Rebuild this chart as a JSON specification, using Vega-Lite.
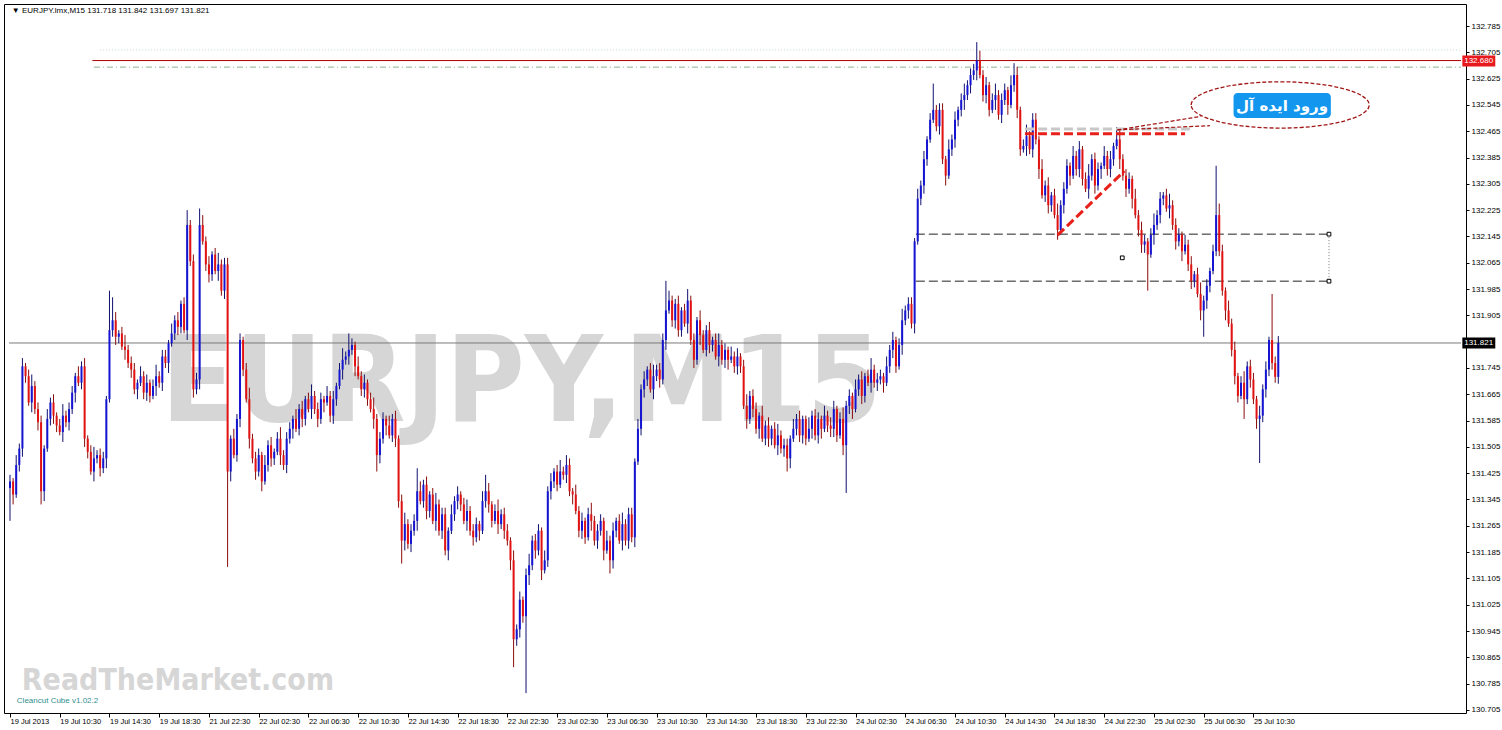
{
"$schema": "https://vega.github.io/schema/vega-lite/v6.json",
"width": 1462, "height": 709,
"autosize": {"type": "none"},
"padding": {"left": 4, "top": 4, "right": 36, "bottom": 17},
"background": "#ffffff",
"config": {"view": {"stroke": "#000000", "strokeWidth": 1}, "axis": {"labelFont": "Liberation Sans", "labelColor": "#000000", "tickColor": "#000000", "domain": false, "grid": false, "labelOverlap": false}},
"datasets": {"bars": [
{"i":0,"o":131.38,"h":131.42,"l":131.28,"c":131.40},{"i":1,"o":131.40,"h":131.41,"l":131.33,"c":131.36},{"i":2,"o":131.36,"h":131.48,"l":131.35,"c":131.45},{"i":3,"o":131.45,"h":131.515,"l":131.43,"c":131.50},{"i":4,"o":131.50,"h":131.775,"l":131.475,"c":131.75},{"i":5,"o":131.75,"h":131.76,"l":131.70,"c":131.72},{"i":6,"o":131.72,"h":131.74,"l":131.63,"c":131.64},{"i":7,"o":131.64,"h":131.725,"l":131.61,"c":131.69},{"i":8,"o":131.69,"h":131.705,"l":131.605,"c":131.62},{"i":9,"o":131.62,"h":131.64,"l":131.555,"c":131.58},
{"i":10,"o":131.58,"h":131.60,"l":131.33,"c":131.37},{"i":11,"o":131.37,"h":131.51,"l":131.34,"c":131.50},{"i":12,"o":131.50,"h":131.62,"l":131.49,"c":131.59},{"i":13,"o":131.59,"h":131.655,"l":131.57,"c":131.64},{"i":14,"o":131.64,"h":131.665,"l":131.575,"c":131.60},{"i":15,"o":131.60,"h":131.61,"l":131.55,"c":131.57},{"i":16,"o":131.57,"h":131.59,"l":131.54,"c":131.55},{"i":17,"o":131.55,"h":131.635,"l":131.52,"c":131.60},{"i":18,"o":131.60,"h":131.615,"l":131.565,"c":131.58},{"i":19,"o":131.58,"h":131.64,"l":131.555,"c":131.62},
{"i":20,"o":131.62,"h":131.69,"l":131.605,"c":131.67},{"i":21,"o":131.67,"h":131.73,"l":131.64,"c":131.72},{"i":22,"o":131.72,"h":131.75,"l":131.69,"c":131.70},{"i":23,"o":131.70,"h":131.765,"l":131.68,"c":131.75},{"i":24,"o":131.75,"h":131.775,"l":131.505,"c":131.53},{"i":25,"o":131.53,"h":131.54,"l":131.47,"c":131.49},{"i":26,"o":131.49,"h":131.51,"l":131.42,"c":131.43},{"i":27,"o":131.43,"h":131.505,"l":131.40,"c":131.47},{"i":28,"o":131.47,"h":131.495,"l":131.455,"c":131.48},{"i":29,"o":131.48,"h":131.50,"l":131.415,"c":131.44},
{"i":30,"o":131.44,"h":131.49,"l":131.425,"c":131.47},{"i":31,"o":131.47,"h":131.66,"l":131.44,"c":131.65},{"i":32,"o":131.65,"h":131.98,"l":131.64,"c":131.86},{"i":33,"o":131.86,"h":131.96,"l":131.84,"c":131.89},{"i":34,"o":131.89,"h":131.915,"l":131.815,"c":131.84},{"i":35,"o":131.84,"h":131.86,"l":131.82,"c":131.85},{"i":36,"o":131.85,"h":131.87,"l":131.80,"c":131.81},{"i":37,"o":131.81,"h":131.845,"l":131.77,"c":131.80},{"i":38,"o":131.80,"h":131.815,"l":131.745,"c":131.76},{"i":39,"o":131.76,"h":131.78,"l":131.715,"c":131.74},
{"i":40,"o":131.74,"h":131.76,"l":131.665,"c":131.68},{"i":41,"o":131.68,"h":131.71,"l":131.65,"c":131.70},{"i":42,"o":131.70,"h":131.75,"l":131.69,"c":131.72},{"i":43,"o":131.72,"h":131.735,"l":131.65,"c":131.67},{"i":44,"o":131.67,"h":131.725,"l":131.645,"c":131.70},{"i":45,"o":131.70,"h":131.71,"l":131.64,"c":131.66},{"i":46,"o":131.66,"h":131.71,"l":131.65,"c":131.69},{"i":47,"o":131.69,"h":131.755,"l":131.66,"c":131.72},{"i":48,"o":131.72,"h":131.735,"l":131.685,"c":131.70},{"i":49,"o":131.70,"h":131.80,"l":131.675,"c":131.78},
{"i":50,"o":131.78,"h":131.80,"l":131.745,"c":131.76},{"i":51,"o":131.76,"h":131.83,"l":131.73,"c":131.82},{"i":52,"o":131.82,"h":131.88,"l":131.81,"c":131.85},{"i":53,"o":131.85,"h":131.905,"l":131.83,"c":131.89},{"i":54,"o":131.89,"h":131.915,"l":131.845,"c":131.87},{"i":55,"o":131.87,"h":131.95,"l":131.85,"c":131.94},{"i":56,"o":131.94,"h":131.96,"l":131.85,"c":131.86},{"i":57,"o":131.86,"h":132.225,"l":131.83,"c":132.18},{"i":58,"o":132.18,"h":132.195,"l":132.055,"c":132.07},{"i":59,"o":132.07,"h":132.09,"l":131.655,"c":131.68},
{"i":60,"o":131.68,"h":131.73,"l":131.665,"c":131.71},{"i":61,"o":131.71,"h":132.23,"l":131.68,"c":132.18},{"i":62,"o":132.18,"h":132.21,"l":132.12,"c":132.13},{"i":63,"o":132.13,"h":132.145,"l":132.04,"c":132.06},{"i":64,"o":132.06,"h":132.085,"l":132.005,"c":132.03},{"i":65,"o":132.03,"h":132.10,"l":132.01,"c":132.09},{"i":66,"o":132.09,"h":132.11,"l":132.03,"c":132.04},{"i":67,"o":132.04,"h":132.095,"l":132.01,"c":132.06},{"i":68,"o":132.06,"h":132.075,"l":131.965,"c":131.98},{"i":69,"o":131.98,"h":132.08,"l":131.955,"c":132.06},
{"i":70,"o":132.06,"h":132.08,"l":131.14,"c":131.43},{"i":71,"o":131.43,"h":131.54,"l":131.40,"c":131.53},{"i":72,"o":131.53,"h":131.56,"l":131.47,"c":131.48},{"i":73,"o":131.48,"h":131.605,"l":131.46,"c":131.59},{"i":74,"o":131.59,"h":131.85,"l":131.565,"c":131.83},{"i":75,"o":131.83,"h":131.84,"l":131.72,"c":131.74},{"i":76,"o":131.74,"h":131.76,"l":131.64,"c":131.65},{"i":77,"o":131.65,"h":131.685,"l":131.50,"c":131.53},{"i":78,"o":131.53,"h":131.545,"l":131.455,"c":131.47},{"i":79,"o":131.47,"h":131.49,"l":131.405,"c":131.43},
{"i":80,"o":131.43,"h":131.50,"l":131.415,"c":131.48},{"i":81,"o":131.48,"h":131.49,"l":131.37,"c":131.40},{"i":82,"o":131.40,"h":131.48,"l":131.39,"c":131.45},{"i":83,"o":131.45,"h":131.525,"l":131.43,"c":131.51},{"i":84,"o":131.51,"h":131.535,"l":131.445,"c":131.47},{"i":85,"o":131.47,"h":131.50,"l":131.45,"c":131.49},{"i":86,"o":131.49,"h":131.55,"l":131.48,"c":131.53},{"i":87,"o":131.53,"h":131.565,"l":131.45,"c":131.48},{"i":88,"o":131.48,"h":131.495,"l":131.435,"c":131.45},{"i":89,"o":131.45,"h":131.55,"l":131.425,"c":131.53},
{"i":90,"o":131.53,"h":131.58,"l":131.515,"c":131.56},{"i":91,"o":131.56,"h":131.60,"l":131.53,"c":131.59},{"i":92,"o":131.59,"h":131.62,"l":131.55,"c":131.56},{"i":93,"o":131.56,"h":131.635,"l":131.54,"c":131.62},{"i":94,"o":131.62,"h":131.645,"l":131.565,"c":131.59},{"i":95,"o":131.59,"h":131.66,"l":131.57,"c":131.65},{"i":96,"o":131.65,"h":131.67,"l":131.61,"c":131.62},{"i":97,"o":131.62,"h":131.695,"l":131.59,"c":131.66},{"i":98,"o":131.66,"h":131.675,"l":131.605,"c":131.62},{"i":99,"o":131.62,"h":131.64,"l":131.565,"c":131.59},
{"i":100,"o":131.59,"h":131.67,"l":131.575,"c":131.65},{"i":101,"o":131.65,"h":131.66,"l":131.61,"c":131.64},{"i":102,"o":131.64,"h":131.69,"l":131.63,"c":131.66},{"i":103,"o":131.66,"h":131.675,"l":131.58,"c":131.60},{"i":104,"o":131.60,"h":131.675,"l":131.575,"c":131.65},{"i":105,"o":131.65,"h":131.70,"l":131.63,"c":131.69},{"i":106,"o":131.69,"h":131.76,"l":131.68,"c":131.74},{"i":107,"o":131.74,"h":131.805,"l":131.71,"c":131.77},{"i":108,"o":131.77,"h":131.795,"l":131.755,"c":131.78},{"i":109,"o":131.78,"h":131.85,"l":131.755,"c":131.80},
{"i":110,"o":131.80,"h":131.835,"l":131.785,"c":131.815},{"i":111,"o":131.815,"h":131.825,"l":131.72,"c":131.75},{"i":112,"o":131.75,"h":131.78,"l":131.71,"c":131.72},{"i":113,"o":131.72,"h":131.735,"l":131.66,"c":131.68},{"i":114,"o":131.68,"h":131.725,"l":131.655,"c":131.70},{"i":115,"o":131.70,"h":131.71,"l":131.63,"c":131.65},{"i":116,"o":131.65,"h":131.67,"l":131.61,"c":131.62},{"i":117,"o":131.62,"h":131.655,"l":131.56,"c":131.59},{"i":118,"o":131.59,"h":131.605,"l":131.43,"c":131.48},{"i":119,"o":131.48,"h":131.55,"l":131.455,"c":131.53},
{"i":120,"o":131.53,"h":131.61,"l":131.515,"c":131.59},{"i":121,"o":131.59,"h":131.60,"l":131.54,"c":131.57},{"i":122,"o":131.57,"h":131.60,"l":131.53,"c":131.54},{"i":123,"o":131.54,"h":131.605,"l":131.52,"c":131.59},{"i":124,"o":131.59,"h":131.615,"l":131.505,"c":131.53},{"i":125,"o":131.53,"h":131.54,"l":131.32,"c":131.34},{"i":126,"o":131.34,"h":131.36,"l":131.15,"c":131.22},{"i":127,"o":131.22,"h":131.305,"l":131.19,"c":131.27},{"i":128,"o":131.27,"h":131.285,"l":131.195,"c":131.21},{"i":129,"o":131.21,"h":131.27,"l":131.185,"c":131.25},
{"i":130,"o":131.25,"h":131.30,"l":131.235,"c":131.28},{"i":131,"o":131.28,"h":131.44,"l":131.25,"c":131.37},{"i":132,"o":131.37,"h":131.40,"l":131.33,"c":131.34},{"i":133,"o":131.34,"h":131.405,"l":131.32,"c":131.39},{"i":134,"o":131.39,"h":131.415,"l":131.285,"c":131.31},{"i":135,"o":131.31,"h":131.37,"l":131.29,"c":131.36},{"i":136,"o":131.36,"h":131.38,"l":131.27,"c":131.28},{"i":137,"o":131.28,"h":131.365,"l":131.25,"c":131.33},{"i":138,"o":131.33,"h":131.345,"l":131.235,"c":131.25},{"i":139,"o":131.25,"h":131.32,"l":131.225,"c":131.30},
{"i":140,"o":131.30,"h":131.32,"l":131.175,"c":131.19},{"i":141,"o":131.19,"h":131.26,"l":131.16,"c":131.25},{"i":142,"o":131.25,"h":131.33,"l":131.24,"c":131.30},{"i":143,"o":131.30,"h":131.355,"l":131.28,"c":131.34},{"i":144,"o":131.34,"h":131.385,"l":131.315,"c":131.36},{"i":145,"o":131.36,"h":131.37,"l":131.31,"c":131.33},{"i":146,"o":131.33,"h":131.35,"l":131.27,"c":131.28},{"i":147,"o":131.28,"h":131.345,"l":131.25,"c":131.31},{"i":148,"o":131.31,"h":131.325,"l":131.235,"c":131.25},{"i":149,"o":131.25,"h":131.27,"l":131.205,"c":131.23},
{"i":150,"o":131.23,"h":131.29,"l":131.215,"c":131.27},{"i":151,"o":131.27,"h":131.28,"l":131.22,"c":131.25},{"i":152,"o":131.25,"h":131.37,"l":131.24,"c":131.34},{"i":153,"o":131.34,"h":131.42,"l":131.32,"c":131.37},{"i":154,"o":131.37,"h":131.395,"l":131.305,"c":131.33},{"i":155,"o":131.33,"h":131.34,"l":131.26,"c":131.28},{"i":156,"o":131.28,"h":131.33,"l":131.27,"c":131.31},{"i":157,"o":131.31,"h":131.345,"l":131.24,"c":131.27},{"i":158,"o":131.27,"h":131.315,"l":131.255,"c":131.30},{"i":159,"o":131.30,"h":131.32,"l":131.225,"c":131.25},
{"i":160,"o":131.25,"h":131.27,"l":131.205,"c":131.22},{"i":161,"o":131.22,"h":131.23,"l":131.13,"c":131.16},{"i":162,"o":131.16,"h":131.19,"l":130.835,"c":130.92},{"i":163,"o":130.92,"h":130.965,"l":130.90,"c":130.95},{"i":164,"o":130.95,"h":131.065,"l":130.925,"c":131.04},{"i":165,"o":131.04,"h":131.05,"l":130.97,"c":130.99},{"i":166,"o":130.99,"h":131.135,"l":130.756,"c":131.115},{"i":167,"o":131.115,"h":131.18,"l":131.085,"c":131.145},{"i":168,"o":131.145,"h":131.235,"l":131.13,"c":131.22},{"i":169,"o":131.22,"h":131.24,"l":131.165,"c":131.19},
{"i":170,"o":131.19,"h":131.27,"l":131.175,"c":131.25},{"i":171,"o":131.25,"h":131.26,"l":131.10,"c":131.13},{"i":172,"o":131.13,"h":131.19,"l":131.12,"c":131.16},{"i":173,"o":131.16,"h":131.385,"l":131.14,"c":131.37},{"i":174,"o":131.37,"h":131.425,"l":131.345,"c":131.40},{"i":175,"o":131.40,"h":131.44,"l":131.38,"c":131.43},{"i":176,"o":131.43,"h":131.45,"l":131.37,"c":131.39},{"i":177,"o":131.39,"h":131.465,"l":131.38,"c":131.43},{"i":178,"o":131.43,"h":131.445,"l":131.405,"c":131.42},{"i":179,"o":131.42,"h":131.48,"l":131.395,"c":131.45},
{"i":180,"o":131.45,"h":131.47,"l":131.355,"c":131.37},{"i":181,"o":131.37,"h":131.38,"l":131.33,"c":131.36},{"i":182,"o":131.36,"h":131.39,"l":131.30,"c":131.31},{"i":183,"o":131.31,"h":131.325,"l":131.23,"c":131.25},{"i":184,"o":131.25,"h":131.305,"l":131.225,"c":131.28},{"i":185,"o":131.28,"h":131.29,"l":131.21,"c":131.23},{"i":186,"o":131.23,"h":131.32,"l":131.22,"c":131.30},{"i":187,"o":131.30,"h":131.335,"l":131.25,"c":131.28},{"i":188,"o":131.28,"h":131.295,"l":131.205,"c":131.22},{"i":189,"o":131.22,"h":131.27,"l":131.195,"c":131.25},
{"i":190,"o":131.25,"h":131.30,"l":131.235,"c":131.28},{"i":191,"o":131.28,"h":131.29,"l":131.16,"c":131.19},{"i":192,"o":131.19,"h":131.25,"l":131.18,"c":131.22},{"i":193,"o":131.22,"h":131.235,"l":131.12,"c":131.16},{"i":194,"o":131.16,"h":131.275,"l":131.135,"c":131.25},{"i":195,"o":131.25,"h":131.29,"l":131.23,"c":131.28},{"i":196,"o":131.28,"h":131.30,"l":131.21,"c":131.22},{"i":197,"o":131.22,"h":131.305,"l":131.19,"c":131.27},{"i":198,"o":131.27,"h":131.285,"l":131.205,"c":131.22},{"i":199,"o":131.22,"h":131.32,"l":131.195,"c":131.30},
{"i":200,"o":131.30,"h":131.32,"l":131.215,"c":131.23},{"i":201,"o":131.23,"h":131.47,"l":131.20,"c":131.46},{"i":202,"o":131.46,"h":131.59,"l":131.45,"c":131.56},{"i":203,"o":131.56,"h":131.695,"l":131.54,"c":131.68},{"i":204,"o":131.68,"h":131.735,"l":131.655,"c":131.71},{"i":205,"o":131.71,"h":131.75,"l":131.69,"c":131.74},{"i":206,"o":131.74,"h":131.76,"l":131.67,"c":131.68},{"i":207,"o":131.68,"h":131.755,"l":131.65,"c":131.72},{"i":208,"o":131.72,"h":131.755,"l":131.705,"c":131.74},{"i":209,"o":131.74,"h":131.76,"l":131.685,"c":131.71},
{"i":210,"o":131.71,"h":131.85,"l":131.695,"c":131.83},{"i":211,"o":131.83,"h":132.01,"l":131.80,"c":131.92},{"i":212,"o":131.92,"h":131.98,"l":131.91,"c":131.95},{"i":213,"o":131.95,"h":131.965,"l":131.87,"c":131.89},{"i":214,"o":131.89,"h":131.955,"l":131.865,"c":131.94},{"i":215,"o":131.94,"h":131.965,"l":131.84,"c":131.86},{"i":216,"o":131.86,"h":131.93,"l":131.84,"c":131.92},{"i":217,"o":131.92,"h":131.94,"l":131.87,"c":131.88},{"i":218,"o":131.88,"h":131.985,"l":131.85,"c":131.95},{"i":219,"o":131.95,"h":131.965,"l":131.815,"c":131.83},
{"i":220,"o":131.83,"h":131.85,"l":131.745,"c":131.77},{"i":221,"o":131.77,"h":131.90,"l":131.755,"c":131.89},{"i":222,"o":131.89,"h":131.92,"l":131.815,"c":131.845},{"i":223,"o":131.845,"h":131.86,"l":131.79,"c":131.80},{"i":224,"o":131.80,"h":131.875,"l":131.78,"c":131.86},{"i":225,"o":131.86,"h":131.885,"l":131.79,"c":131.815},{"i":226,"o":131.815,"h":131.84,"l":131.795,"c":131.83},{"i":227,"o":131.83,"h":131.85,"l":131.77,"c":131.78},{"i":228,"o":131.78,"h":131.85,"l":131.75,"c":131.815},{"i":229,"o":131.815,"h":131.83,"l":131.755,"c":131.77},
{"i":230,"o":131.77,"h":131.82,"l":131.745,"c":131.80},{"i":231,"o":131.80,"h":131.81,"l":131.74,"c":131.77},{"i":232,"o":131.77,"h":131.81,"l":131.76,"c":131.78},{"i":233,"o":131.78,"h":131.795,"l":131.73,"c":131.75},{"i":234,"o":131.75,"h":131.805,"l":131.725,"c":131.78},{"i":235,"o":131.78,"h":131.79,"l":131.73,"c":131.75},{"i":236,"o":131.75,"h":131.77,"l":131.62,"c":131.63},{"i":237,"o":131.63,"h":131.665,"l":131.56,"c":131.59},{"i":238,"o":131.59,"h":131.675,"l":131.575,"c":131.66},{"i":239,"o":131.66,"h":131.68,"l":131.595,"c":131.62},
{"i":240,"o":131.62,"h":131.64,"l":131.545,"c":131.56},{"i":241,"o":131.56,"h":131.61,"l":131.53,"c":131.60},{"i":242,"o":131.60,"h":131.63,"l":131.52,"c":131.53},{"i":243,"o":131.53,"h":131.585,"l":131.51,"c":131.57},{"i":244,"o":131.57,"h":131.595,"l":131.505,"c":131.53},{"i":245,"o":131.53,"h":131.57,"l":131.51,"c":131.56},{"i":246,"o":131.56,"h":131.58,"l":131.50,"c":131.51},{"i":247,"o":131.51,"h":131.575,"l":131.48,"c":131.54},{"i":248,"o":131.54,"h":131.555,"l":131.485,"c":131.50},{"i":249,"o":131.50,"h":131.53,"l":131.475,"c":131.51},
{"i":250,"o":131.51,"h":131.53,"l":131.43,"c":131.47},{"i":251,"o":131.47,"h":131.54,"l":131.44,"c":131.53},{"i":252,"o":131.53,"h":131.59,"l":131.52,"c":131.56},{"i":253,"o":131.56,"h":131.605,"l":131.54,"c":131.59},{"i":254,"o":131.59,"h":131.615,"l":131.52,"c":131.54},{"i":255,"o":131.54,"h":131.60,"l":131.515,"c":131.59},{"i":256,"o":131.59,"h":131.60,"l":131.51,"c":131.53},{"i":257,"o":131.53,"h":131.595,"l":131.52,"c":131.56},{"i":258,"o":131.56,"h":131.615,"l":131.53,"c":131.60},{"i":259,"o":131.60,"h":131.62,"l":131.525,"c":131.54},
{"i":260,"o":131.54,"h":131.61,"l":131.515,"c":131.59},{"i":261,"o":131.59,"h":131.60,"l":131.53,"c":131.56},{"i":262,"o":131.56,"h":131.63,"l":131.55,"c":131.60},{"i":263,"o":131.60,"h":131.615,"l":131.55,"c":131.57},{"i":264,"o":131.57,"h":131.595,"l":131.535,"c":131.56},{"i":265,"o":131.56,"h":131.645,"l":131.535,"c":131.62},{"i":266,"o":131.62,"h":131.63,"l":131.52,"c":131.54},{"i":267,"o":131.54,"h":131.61,"l":131.53,"c":131.59},{"i":268,"o":131.59,"h":131.625,"l":131.48,"c":131.51},{"i":269,"o":131.51,"h":131.645,"l":131.365,"c":131.63},
{"i":270,"o":131.63,"h":131.68,"l":131.605,"c":131.66},{"i":271,"o":131.66,"h":131.67,"l":131.59,"c":131.62},{"i":272,"o":131.62,"h":131.71,"l":131.61,"c":131.68},{"i":273,"o":131.68,"h":131.725,"l":131.66,"c":131.71},{"i":274,"o":131.71,"h":131.735,"l":131.635,"c":131.66},{"i":275,"o":131.66,"h":131.73,"l":131.64,"c":131.72},{"i":276,"o":131.72,"h":131.74,"l":131.69,"c":131.70},{"i":277,"o":131.70,"h":131.775,"l":131.67,"c":131.74},{"i":278,"o":131.74,"h":131.755,"l":131.685,"c":131.70},{"i":279,"o":131.70,"h":131.73,"l":131.675,"c":131.71},
{"i":280,"o":131.71,"h":131.74,"l":131.695,"c":131.72},{"i":281,"o":131.72,"h":131.73,"l":131.67,"c":131.70},{"i":282,"o":131.70,"h":131.78,"l":131.69,"c":131.75},{"i":283,"o":131.75,"h":131.815,"l":131.73,"c":131.80},{"i":284,"o":131.80,"h":131.855,"l":131.775,"c":131.83},{"i":285,"o":131.83,"h":131.84,"l":131.73,"c":131.75},{"i":286,"o":131.75,"h":131.835,"l":131.74,"c":131.815},{"i":287,"o":131.815,"h":131.925,"l":131.785,"c":131.89},{"i":288,"o":131.89,"h":131.935,"l":131.875,"c":131.92},{"i":289,"o":131.92,"h":131.96,"l":131.895,"c":131.94},
{"i":290,"o":131.94,"h":131.96,"l":131.865,"c":131.88},{"i":291,"o":131.88,"h":132.14,"l":131.85,"c":132.13},{"i":292,"o":132.13,"h":132.29,"l":132.12,"c":132.26},{"i":293,"o":132.26,"h":132.315,"l":132.24,"c":132.30},{"i":294,"o":132.30,"h":132.405,"l":132.275,"c":132.38},{"i":295,"o":132.38,"h":132.45,"l":132.36,"c":132.44},{"i":296,"o":132.44,"h":132.52,"l":132.43,"c":132.50},{"i":297,"o":132.50,"h":132.61,"l":132.49,"c":132.53},{"i":298,"o":132.53,"h":132.545,"l":132.465,"c":132.48},{"i":299,"o":132.48,"h":132.55,"l":132.455,"c":132.53},
{"i":300,"o":132.53,"h":132.55,"l":132.365,"c":132.38},{"i":301,"o":132.38,"h":132.39,"l":132.30,"c":132.33},{"i":302,"o":132.33,"h":132.44,"l":132.32,"c":132.41},{"i":303,"o":132.41,"h":132.455,"l":132.39,"c":132.44},{"i":304,"o":132.44,"h":132.525,"l":132.415,"c":132.50},{"i":305,"o":132.50,"h":132.54,"l":132.48,"c":132.53},{"i":306,"o":132.53,"h":132.58,"l":132.51,"c":132.56},{"i":307,"o":132.56,"h":132.61,"l":132.53,"c":132.575},{"i":308,"o":132.575,"h":132.62,"l":132.56,"c":132.605},{"i":309,"o":132.605,"h":132.656,"l":132.58,"c":132.636},
{"i":310,"o":132.636,"h":132.67,"l":132.621,"c":132.65},{"i":311,"o":132.65,"h":132.736,"l":132.62,"c":132.68},{"i":312,"o":132.68,"h":132.71,"l":132.626,"c":132.636},{"i":313,"o":132.636,"h":132.651,"l":132.555,"c":132.575},{"i":314,"o":132.575,"h":132.63,"l":132.55,"c":132.605},{"i":315,"o":132.605,"h":132.615,"l":132.51,"c":132.53},{"i":316,"o":132.53,"h":132.58,"l":132.52,"c":132.56},{"i":317,"o":132.56,"h":132.61,"l":132.53,"c":132.575},{"i":318,"o":132.575,"h":132.59,"l":132.50,"c":132.515},{"i":319,"o":132.515,"h":132.58,"l":132.49,"c":132.56},
{"i":320,"o":132.56,"h":132.61,"l":132.545,"c":132.59},{"i":321,"o":132.59,"h":132.60,"l":132.515,"c":132.545},{"i":322,"o":132.545,"h":132.635,"l":132.535,"c":132.605},{"i":323,"o":132.605,"h":132.672,"l":132.585,"c":132.636},{"i":324,"o":132.636,"h":132.661,"l":132.505,"c":132.53},{"i":325,"o":132.53,"h":132.54,"l":132.39,"c":132.41},{"i":326,"o":132.41,"h":132.44,"l":132.40,"c":132.42},{"i":327,"o":132.42,"h":132.485,"l":132.39,"c":132.45},{"i":328,"o":132.45,"h":132.465,"l":132.395,"c":132.41},{"i":329,"o":132.41,"h":132.52,"l":132.385,"c":132.50},
{"i":330,"o":132.50,"h":132.52,"l":132.425,"c":132.44},{"i":331,"o":132.44,"h":132.45,"l":132.32,"c":132.35},{"i":332,"o":132.35,"h":132.38,"l":132.26,"c":132.27},{"i":333,"o":132.27,"h":132.315,"l":132.25,"c":132.30},{"i":334,"o":132.30,"h":132.325,"l":132.215,"c":132.24},{"i":335,"o":132.24,"h":132.28,"l":132.22,"c":132.27},{"i":336,"o":132.27,"h":132.29,"l":132.20,"c":132.21},{"i":337,"o":132.21,"h":132.245,"l":132.135,"c":132.165},{"i":338,"o":132.165,"h":132.255,"l":132.15,"c":132.24},{"i":339,"o":132.24,"h":132.31,"l":132.215,"c":132.29},
{"i":340,"o":132.29,"h":132.38,"l":132.275,"c":132.36},{"i":341,"o":132.36,"h":132.37,"l":132.30,"c":132.33},{"i":342,"o":132.33,"h":132.42,"l":132.32,"c":132.39},{"i":343,"o":132.39,"h":132.405,"l":132.33,"c":132.35},{"i":344,"o":132.35,"h":132.435,"l":132.325,"c":132.41},{"i":345,"o":132.41,"h":132.42,"l":132.30,"c":132.32},{"i":346,"o":132.32,"h":132.34,"l":132.28,"c":132.29},{"i":347,"o":132.29,"h":132.365,"l":132.26,"c":132.33},{"i":348,"o":132.33,"h":132.395,"l":132.315,"c":132.38},{"i":349,"o":132.38,"h":132.40,"l":132.275,"c":132.30},
{"i":350,"o":132.30,"h":132.37,"l":132.285,"c":132.35},{"i":351,"o":132.35,"h":132.37,"l":132.32,"c":132.36},{"i":352,"o":132.36,"h":132.42,"l":132.35,"c":132.39},{"i":353,"o":132.39,"h":132.405,"l":132.33,"c":132.35},{"i":354,"o":132.35,"h":132.405,"l":132.325,"c":132.38},{"i":355,"o":132.38,"h":132.43,"l":132.36,"c":132.42},{"i":356,"o":132.42,"h":132.478,"l":132.41,"c":132.44},{"i":357,"o":132.44,"h":132.475,"l":132.35,"c":132.38},{"i":358,"o":132.38,"h":132.395,"l":132.315,"c":132.33},{"i":359,"o":132.33,"h":132.35,"l":132.265,"c":132.29},
{"i":360,"o":132.29,"h":132.34,"l":132.275,"c":132.32},{"i":361,"o":132.32,"h":132.33,"l":132.23,"c":132.26},{"i":362,"o":132.26,"h":132.29,"l":132.20,"c":132.21},{"i":363,"o":132.21,"h":132.225,"l":132.145,"c":132.165},{"i":364,"o":132.165,"h":132.19,"l":132.095,"c":132.12},{"i":365,"o":132.12,"h":132.15,"l":132.095,"c":132.13},{"i":366,"o":132.13,"h":132.14,"l":131.98,"c":132.09},{"i":367,"o":132.09,"h":132.17,"l":132.08,"c":132.15},{"i":368,"o":132.15,"h":132.215,"l":132.12,"c":132.18},{"i":369,"o":132.18,"h":132.225,"l":132.165,"c":132.21},
{"i":370,"o":132.21,"h":132.28,"l":132.185,"c":132.26},{"i":371,"o":132.26,"h":132.28,"l":132.24,"c":132.27},{"i":372,"o":132.27,"h":132.29,"l":132.22,"c":132.23},{"i":373,"o":132.23,"h":132.275,"l":132.20,"c":132.24},{"i":374,"o":132.24,"h":132.255,"l":132.165,"c":132.18},{"i":375,"o":132.18,"h":132.20,"l":132.105,"c":132.13},{"i":376,"o":132.13,"h":132.17,"l":132.115,"c":132.15},{"i":377,"o":132.15,"h":132.16,"l":132.07,"c":132.10},{"i":378,"o":132.10,"h":132.15,"l":132.09,"c":132.12},{"i":379,"o":132.12,"h":132.135,"l":132.04,"c":132.06},
{"i":380,"o":132.06,"h":132.085,"l":131.985,"c":132.01},{"i":381,"o":132.01,"h":132.04,"l":131.99,"c":132.03},{"i":382,"o":132.03,"h":132.05,"l":131.96,"c":131.97},{"i":383,"o":131.97,"h":132.005,"l":131.89,"c":131.92},{"i":384,"o":131.92,"h":131.965,"l":131.84,"c":131.95},{"i":385,"o":131.95,"h":132.015,"l":131.925,"c":131.995},{"i":386,"o":131.995,"h":132.05,"l":131.975,"c":132.04},{"i":387,"o":132.04,"h":132.12,"l":132.03,"c":132.10},{"i":388,"o":132.10,"h":132.36,"l":132.085,"c":132.21},{"i":389,"o":132.21,"h":132.245,"l":132.085,"c":132.10},
{"i":390,"o":132.10,"h":132.12,"l":131.965,"c":131.98},{"i":391,"o":131.98,"h":131.99,"l":131.89,"c":131.92},{"i":392,"o":131.92,"h":131.95,"l":131.87,"c":131.88},{"i":393,"o":131.88,"h":131.895,"l":131.78,"c":131.80},{"i":394,"o":131.80,"h":131.825,"l":131.695,"c":131.72},{"i":395,"o":131.72,"h":131.73,"l":131.64,"c":131.66},{"i":396,"o":131.66,"h":131.72,"l":131.65,"c":131.70},{"i":397,"o":131.70,"h":131.735,"l":131.59,"c":131.65},{"i":398,"o":131.65,"h":131.765,"l":131.635,"c":131.75},{"i":399,"o":131.75,"h":131.77,"l":131.685,"c":131.71},
{"i":400,"o":131.71,"h":131.73,"l":131.635,"c":131.65},{"i":401,"o":131.65,"h":131.66,"l":131.56,"c":131.59},{"i":402,"o":131.59,"h":131.63,"l":131.456,"c":131.60},{"i":403,"o":131.60,"h":131.695,"l":131.58,"c":131.68},{"i":404,"o":131.68,"h":131.765,"l":131.655,"c":131.74},{"i":405,"o":131.74,"h":131.84,"l":131.72,"c":131.83},{"i":406,"o":131.83,"h":131.97,"l":131.74,"c":131.76},{"i":407,"o":131.76,"h":131.78,"l":131.70,"c":131.718},{"i":408,"o":131.718,"h":131.842,"l":131.697,"c":131.821}
]},
"layer": [
{"data": {"values": [{"i": 164.5, "p": 131.585, "label": "EURJPY,M15"}]},
 "mark": {"type": "text", "font": "DejaVu Sans Condensed, sans-serif", "fontWeight": "bold", "fontSize": 120, "color": "#d6d6d6", "align": "center", "baseline": "alphabetic"},
 "encoding": {"x": {"field": "i", "type": "quantitative"}, "y": {"field": "p", "type": "quantitative"}, "text": {"field": "label"}}},
{"data": {"values": [{"i": 3.8, "p": 130.766, "label": "ReadTheMarket.com"}]},
 "mark": {"type": "text", "font": "DejaVu Sans Condensed, sans-serif", "fontWeight": "bold", "fontSize": 30, "color": "#d6d6d6", "align": "left", "baseline": "alphabetic"},
 "encoding": {"x": {"field": "i", "type": "quantitative"}, "y": {"field": "p", "type": "quantitative"}, "text": {"field": "label"}}},
{"data": {"values": [{"a": 29, "b": 466.77, "p": 132.712}]},
 "mark": {"type": "rule", "color": "#c4d6d6", "strokeWidth": 1, "strokeDash": [1, 2]},
 "encoding": {"x": {"field": "a", "type": "quantitative"}, "x2": {"field": "b"}, "y": {"field": "p", "type": "quantitative"}}},
{"data": {"values": [{"a": 27, "b": 466.77, "p": 132.66}]},
 "mark": {"type": "rule", "color": "#8fb08f", "strokeWidth": 1, "strokeDash": [6, 3, 1, 3]},
 "encoding": {"x": {"field": "a", "type": "quantitative"}, "x2": {"field": "b"}, "y": {"field": "p", "type": "quantitative"}}},
{"data": {"values": [{"a": 26.5, "b": 466.77, "p": 132.68}]},
 "mark": {"type": "rule", "color": "#b00000", "strokeWidth": 1},
 "encoding": {"x": {"field": "a", "type": "quantitative"}, "x2": {"field": "b"}, "y": {"field": "p", "type": "quantitative"}}},
{"data": {"values": [{"a": -0.32, "b": 466.77, "p": 131.821}]},
 "mark": {"type": "rule", "color": "#7a7a7a", "strokeWidth": 1},
 "encoding": {"x": {"field": "a", "type": "quantitative"}, "x2": {"field": "b"}, "y": {"field": "p", "type": "quantitative"}}},
{"data": {"values": [{"a": 291.4, "b": 424.3, "p": 132.152}, {"a": 291.4, "b": 424.3, "p": 132.009}]},
 "mark": {"type": "rule", "color": "#222222", "strokeWidth": 1, "strokeDash": [9, 4]},
 "encoding": {"x": {"field": "a", "type": "quantitative"}, "x2": {"field": "b"}, "y": {"field": "p", "type": "quantitative"}}},
{"data": {"values": [{"a": 424.3, "p": 132.152, "q": 132.009}]},
 "mark": {"type": "rule", "color": "#777777", "strokeWidth": 1, "strokeDash": [1, 2]},
 "encoding": {"x": {"field": "a", "type": "quantitative"}, "y": {"field": "p", "type": "quantitative"}, "y2": {"field": "q"}}},
{"data": {"name": "bars"},
 "mark": {"type": "rule", "strokeWidth": 1},
 "encoding": {
  "x": {"field": "i", "type": "quantitative", "scale": {"domain": [-0.32, 466.77], "nice": false, "zero": false},
        "axis": {"title": null, "orient": "bottom", "tickCount": 60, "values": [0,16,32,48,64,80,96,112,128,144,160,176,192,208,224,240,256,272,288,304,320,336,352,368,384,400], "labelExpr": "['19 Jul 2013','19 Jul 10:30','19 Jul 14:30','19 Jul 18:30','21 Jul 22:30','22 Jul 02:30','22 Jul 06:30','22 Jul 10:30','22 Jul 14:30','22 Jul 18:30','22 Jul 22:30','23 Jul 02:30','23 Jul 06:30','23 Jul 10:30','23 Jul 14:30','23 Jul 18:30','23 Jul 22:30','24 Jul 02:30','24 Jul 06:30','24 Jul 10:30','24 Jul 14:30','24 Jul 18:30','24 Jul 22:30','25 Jul 02:30','25 Jul 06:30','25 Jul 10:30'][round(datum.value/16)]", "labelAlign": "left", "labelDx": 2, "labelFontSize": 7.5, "tickSize": 4, "labelPadding": 0, "labelOverlap": false, "labelFlush": false}},
  "y": {"field": "l", "type": "quantitative", "scale": {"domain": [130.6956, 132.852], "nice": false, "zero": false},
        "axis": {"title": null, "orient": "right", "tickCount": 60, "values": [132.785,132.705,132.625,132.545,132.465,132.385,132.305,132.225,132.145,132.065,131.985,131.905,131.745,131.665,131.585,131.505,131.425,131.345,131.265,131.185,131.105,131.025,130.945,130.865,130.785,130.705], "format": ".3f", "labelFontSize": 8, "tickSize": 3, "labelPadding": 2, "labelOverlap": false, "labelFlush": false}},
  "y2": {"field": "h"},
  "color": {"condition": {"test": "datum.c >= datum.o", "value": "#101070"}, "value": "#8a0c0c"}}},
{"data": {"name": "bars"},
 "mark": {"type": "bar", "size": 2},
 "encoding": {
  "x": {"field": "i", "type": "quantitative"},
  "y": {"field": "o", "type": "quantitative"},
  "y2": {"field": "c"},
  "color": {"condition": {"test": "datum.c >= datum.o", "value": "#1414d2"}, "value": "#e31212"}}},
{"data": {"values": [{"a": 326.5, "b": 380, "p": 132.472}]},
 "mark": {"type": "rule", "color": "#c8c8c8", "strokeWidth": 3, "strokeDash": [9, 4]},
 "encoding": {"x": {"field": "a", "type": "quantitative"}, "x2": {"field": "b"}, "y": {"field": "p", "type": "quantitative"}}},
{"data": {"values": [{"a": 326.5, "b": 378, "p": 132.457, "q": 132.457}, {"a": 337, "b": 358.5, "p": 132.149, "q": 132.344}]},
 "mark": {"type": "rule", "color": "#e8201a", "strokeWidth": 3, "strokeDash": [9, 4]},
 "encoding": {"x": {"field": "a", "type": "quantitative"}, "x2": {"field": "b"}, "y": {"field": "p", "type": "quantitative"}, "y2": {"field": "q"}}},
{"data": {"values": [{"a": 356.2, "b": 383, "p": 132.469, "q": 132.51}, {"a": 356.2, "b": 386, "p": 132.469, "q": 132.482}]},
 "mark": {"type": "rule", "color": "#a31515", "strokeWidth": 1.2, "strokeDash": [4, 2]},
 "encoding": {"x": {"field": "a", "type": "quantitative"}, "x2": {"field": "b"}, "y": {"field": "p", "type": "quantitative"}, "y2": {"field": "q"}}},
{"data": {"values": [{"i": 408.6, "p": 132.545}]},
 "mark": {"type": "point", "shape": "M-1,0A1,0.26,0,1,1,1,0A1,0.26,0,1,1,-1,0Z", "size": 31684, "filled": true, "fill": "#ffffff", "fillOpacity": 1, "stroke": "#a31515", "strokeWidth": 1.3, "strokeDash": [4, 2], "opacity": 1},
 "encoding": {"x": {"field": "i", "type": "quantitative"}, "y": {"field": "p", "type": "quantitative"}}},
{"data": {"values": [{"a": 393.6, "b": 424.9, "p": 132.581, "q": 132.505}]},
 "mark": {"type": "rect", "color": "#1296ee", "cornerRadius": 4},
 "encoding": {"x": {"field": "a", "type": "quantitative"}, "x2": {"field": "b"}, "y": {"field": "p", "type": "quantitative"}, "y2": {"field": "q"}}},
{"data": {"values": [{"i": 409.2, "p": 132.543, "label": "ورود ایده آل"}]},
 "mark": {"type": "text", "font": "DejaVu Sans", "fontWeight": "bold", "fontSize": 15, "color": "#ffffff", "align": "center", "baseline": "middle"},
 "encoding": {"x": {"field": "i", "type": "quantitative"}, "y": {"field": "p", "type": "quantitative"}, "text": {"field": "label"}}},
{"data": {"values": [{"i": 424.3, "p": 132.152}, {"i": 424.3, "p": 132.009}, {"i": 357.8, "p": 132.08}]},
 "mark": {"type": "point", "shape": "square", "size": 14, "filled": true, "fill": "#ffffff", "stroke": "#000000", "strokeWidth": 1, "opacity": 1},
 "encoding": {"x": {"field": "i", "type": "quantitative"}, "y": {"field": "p", "type": "quantitative"}}},
{"data": {"values": [{"i": 0.6, "p": 132.8245, "label": "▼ EURJPY.lmx,M15  131.718 131.842 131.697 131.821"}]},
 "mark": {"type": "text", "font": "Liberation Sans", "fontSize": 8, "color": "#000000", "align": "left", "baseline": "alphabetic"},
 "encoding": {"x": {"field": "i", "type": "quantitative"}, "y": {"field": "p", "type": "quantitative"}, "text": {"field": "label"}}},
{"data": {"values": [{"i": 2.2, "p": 130.726, "label": "Cleancut Cube v1.02.2"}]},
 "mark": {"type": "text", "font": "Liberation Sans", "fontSize": 8, "color": "#2f8f8f", "align": "left", "baseline": "alphabetic"},
 "encoding": {"x": {"field": "i", "type": "quantitative"}, "y": {"field": "p", "type": "quantitative"}, "text": {"field": "label"}}},
{"data": {"values": [{"a": 467.2, "b": 477.8, "p": 132.695, "q": 132.662, "k": "red"}, {"a": 467.2, "b": 477.8, "p": 131.838, "q": 131.804, "k": "black"}]},
 "mark": {"type": "rect", "clip": false},
 "encoding": {"x": {"field": "a", "type": "quantitative"}, "x2": {"field": "b"}, "y": {"field": "p", "type": "quantitative"}, "y2": {"field": "q"},
   "color": {"condition": {"test": "datum.k == 'red'", "value": "#e8191d"}, "value": "#000000"}}},
{"data": {"values": [{"i": 467.8, "p": 132.678, "label": "132.680"}, {"i": 467.8, "p": 131.821, "label": "131.821"}]},
 "mark": {"type": "text", "clip": false, "font": "Liberation Sans", "fontSize": 8, "color": "#ffffff", "align": "left", "baseline": "middle"},
 "encoding": {"x": {"field": "i", "type": "quantitative"}, "y": {"field": "p", "type": "quantitative"}, "text": {"field": "label"}}}
]
}
